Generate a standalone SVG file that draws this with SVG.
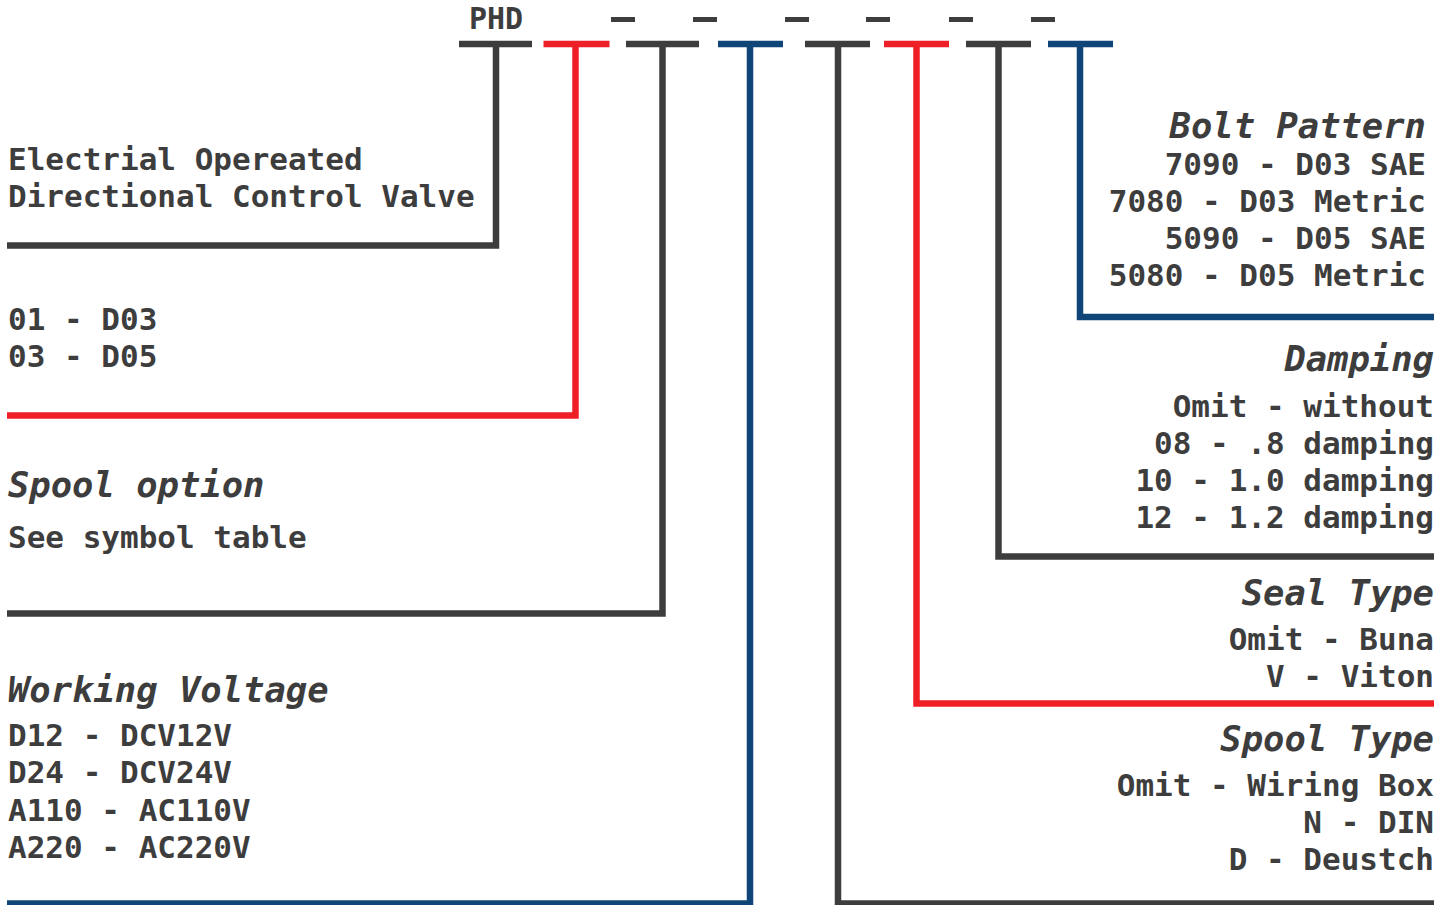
<svg xmlns="http://www.w3.org/2000/svg" width="1450" height="905" viewBox="0 0 1450 905">
<style>
.t{font-family:"DejaVu Sans Mono","Liberation Mono",monospace;font-weight:bold;fill:#3d3d3d;font-size:31px}
.h{font-style:italic;font-size:35.5px}
.r{text-anchor:end}
.k{stroke:#3d3d3d}
.rd{stroke:#ee1f26}
.bl{stroke:#0f4577}
.c{fill:none;stroke-width:6.5;stroke-linejoin:miter;stroke-linecap:butt}
.d{fill:#3d3d3d}
</style>
<rect width="1450" height="905" fill="#fff"/>
<g id="code">
<text class="t" x="469" y="29" style="font-size:30px">PHD</text>
<rect class="d" x="611" y="17" width="24" height="5"/>
<rect class="d" x="693" y="17" width="24" height="5"/>
<rect class="d" x="785" y="17" width="24" height="5"/>
<rect class="d" x="866" y="17" width="24" height="5"/>
<rect class="d" x="949" y="17" width="24" height="5"/>
<rect class="d" x="1031" y="17" width="24" height="5"/>
</g>
<g id="connectors">
<path class="c k" d="M459,44H532M496,44V245.5H7"/>
<path class="c rd" d="M543.5,44H609.5M575.5,44V415.5H7"/>
<path class="c k" d="M626,44H699M662.5,44V613.5H7"/>
<path class="c bl" d="M718,44H783M750,44V903.5H7"/>
<path class="c k" d="M805,44H870M838,44V903.5H1434"/>
<path class="c rd" d="M884,44H949M916.5,44V703.5H1434"/>
<path class="c k" d="M966,44H1031M998.5,44V556.5H1434"/>
<path class="c bl" d="M1048,44H1113M1080,44V317H1434"/>
</g>
<g id="valve">
<text class="t" x="8" y="170">Electrial Opereated</text>
<text class="t" x="8" y="207">Directional Control Valve</text>
</g>
<g id="size">
<text class="t" x="8" y="330">01 - D03</text>
<text class="t" x="8" y="367">03 - D05</text>
</g>
<g id="spool-option">
<text class="t h" x="8" y="497">Spool option</text>
<text class="t" x="8" y="548">See symbol table</text>
</g>
<g id="voltage">
<text class="t h" x="8" y="702">Working Voltage</text>
<text class="t" x="8" y="746">D12 - DCV12V</text>
<text class="t" x="8" y="783">D24 - DCV24V</text>
<text class="t" x="8" y="821">A110 - AC110V</text>
<text class="t" x="8" y="858">A220 - AC220V</text>
</g>
<g id="bolt">
<text class="t h r" x="1426" y="138">Bolt Pattern</text>
<text class="t r" x="1426" y="175">7090 - D03 SAE</text>
<text class="t r" x="1426" y="212">7080 - D03 Metric</text>
<text class="t r" x="1426" y="249">5090 - D05 SAE</text>
<text class="t r" x="1426" y="286">5080 - D05 Metric</text>
</g>
<g id="damping">
<text class="t h r" x="1434" y="371">Damping</text>
<text class="t r" x="1434" y="417">Omit - without</text>
<text class="t r" x="1434" y="454">08 - .8 damping</text>
<text class="t r" x="1434" y="491">10 - 1.0 damping</text>
<text class="t r" x="1434" y="528">12 - 1.2 damping</text>
</g>
<g id="seal">
<text class="t h r" x="1434" y="605">Seal Type</text>
<text class="t r" x="1434" y="650">Omit - Buna</text>
<text class="t r" x="1434" y="687">V - Viton</text>
</g>
<g id="spool-type">
<text class="t h r" x="1434" y="751">Spool Type</text>
<text class="t r" x="1434" y="796">Omit - Wiring Box</text>
<text class="t r" x="1434" y="833">N - DIN</text>
<text class="t r" x="1434" y="870">D - Deustch</text>
</g>
</svg>
